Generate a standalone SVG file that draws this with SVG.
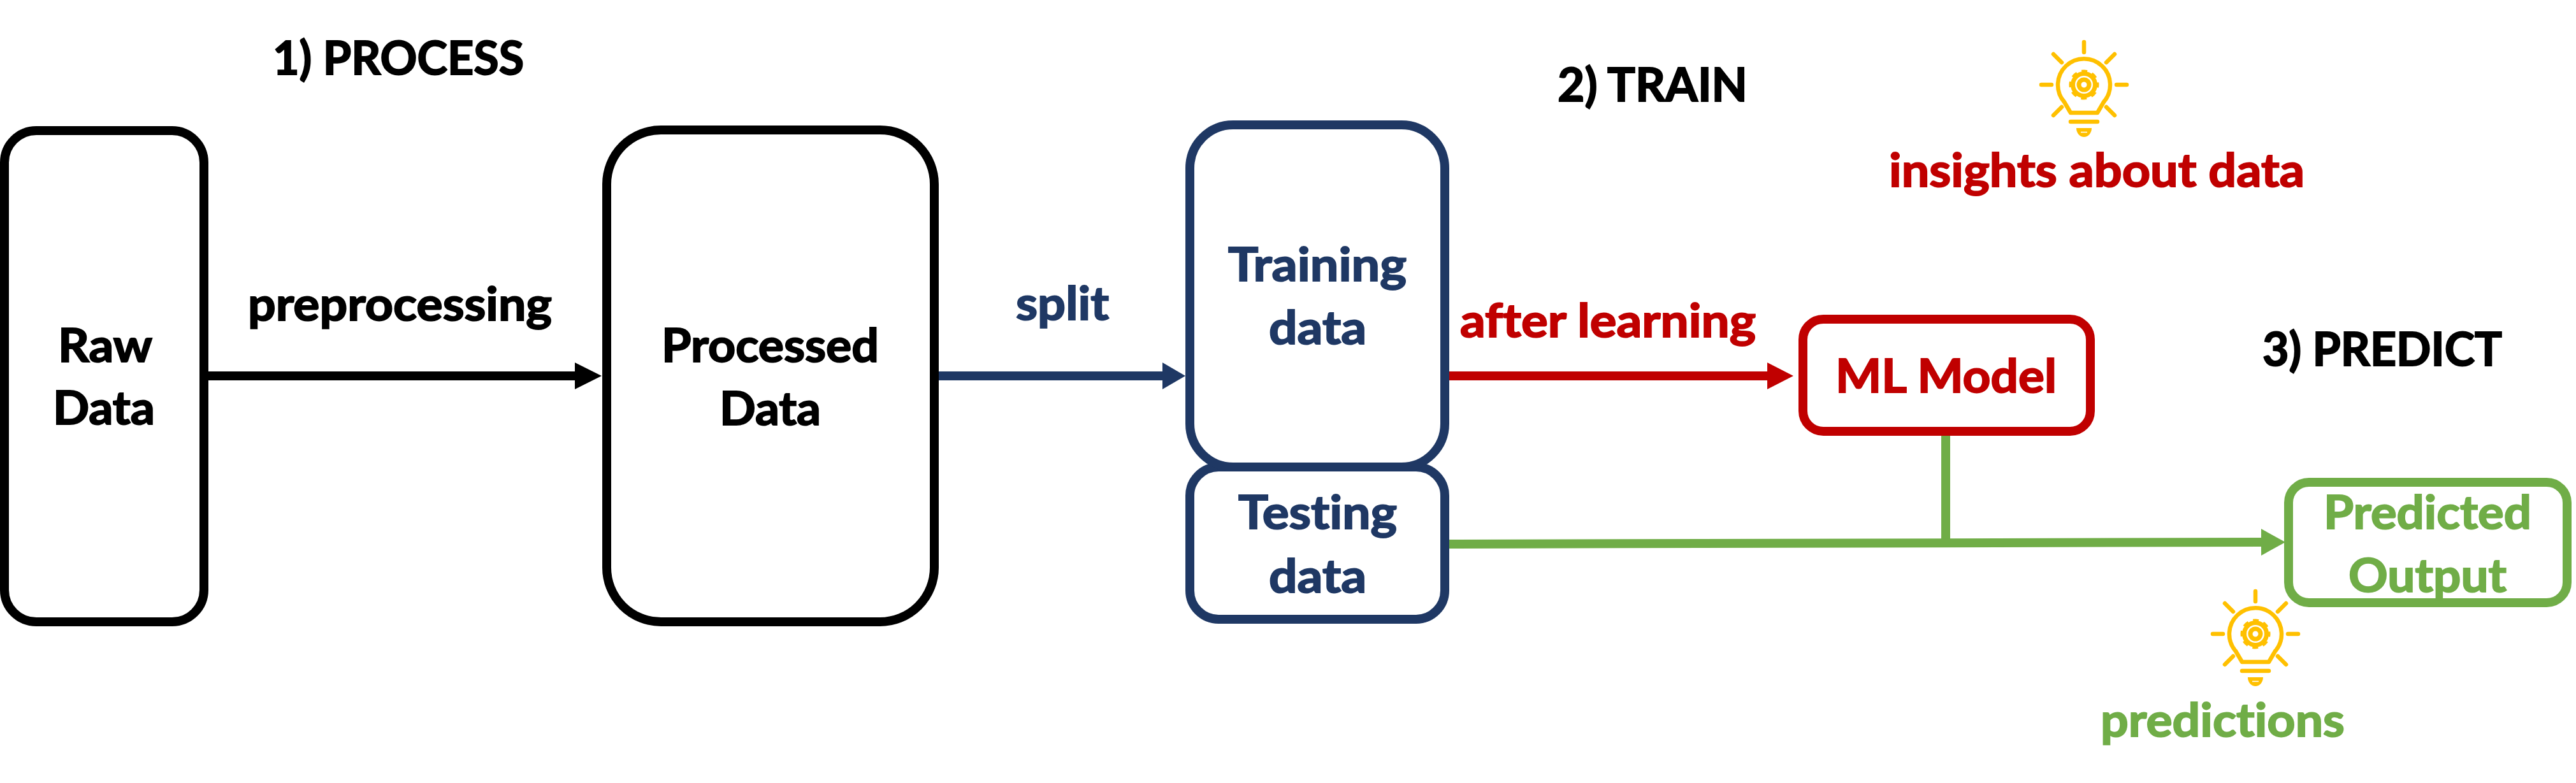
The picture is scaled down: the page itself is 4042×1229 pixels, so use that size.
<svg xmlns="http://www.w3.org/2000/svg" width="4042" height="1229" viewBox="0 0 4042 1229">
  <style>
    text { font-family: "Lato", "Open Sans", "Liberation Sans", sans-serif; font-weight: 700; font-size: 73px; font-variant-ligatures: none; stroke-width: 2; }
    .box { fill: #ffffff; stroke-width: 14; }
    .conn { fill: none; stroke-width: 14; }
    .k { stroke: #000000; } .b { stroke: #1F3864; } .r { stroke: #C00000; } .g { stroke: #70AD47; }
    .tk { fill: #000000; stroke: #000000; } .tb { fill: #1F3864; stroke: #1F3864; } .tr { fill: #C00000; stroke: #C00000; } .tg { fill: #70AD47; stroke: #70AD47; }
    .bulb-line { fill: none; stroke: #FFC000; stroke-width: 6.5; stroke-linecap: round; }
  </style>
  <defs>
    <marker id="hk" markerUnits="userSpaceOnUse" markerWidth="42" markerHeight="42" refX="0" refY="21" orient="auto"><path d="M0 0L42 21L0 42Z" fill="#000000"/></marker>
    <marker id="hb" markerUnits="userSpaceOnUse" markerWidth="36" markerHeight="42" refX="0" refY="21" orient="auto"><path d="M0 0L36 21L0 42Z" fill="#1F3864"/></marker>
    <marker id="hr" markerUnits="userSpaceOnUse" markerWidth="41" markerHeight="42" refX="0" refY="21" orient="auto"><path d="M0 0L41 21L0 42Z" fill="#C00000"/></marker>
    <marker id="hg" markerUnits="userSpaceOnUse" markerWidth="38" markerHeight="42" refX="0" refY="21" orient="auto"><path d="M0 0L38 21L0 42Z" fill="#70AD47"/></marker>
    <g id="bulb">
      <path class="bulb-line" d="M0 -67V-51M0 0M-67 0H-51M67 0H51M-48 -48L-35 -35M48 -48L35 -35M-48 48L-35 35M48 48L35 35M-21 58H21"/>
      <path class="bulb-line" stroke-linejoin="round" d="M-21 44H21L31 27A41 41 0 1 0 -31 27Z"/>
      <path d="M-12 68H12A12 14 0 0 1 -12 68Z" fill="#FFC000"/>
      <path d="M-5 74.500H5" stroke="#ffffff" stroke-width="1.500" fill="none"/>
      <circle r="17.500" fill="none" stroke="#FFC000" stroke-width="7"/>
      <circle r="21.500" fill="none" stroke="#FFC000" stroke-width="4" stroke-dasharray="9 7.890" stroke-dashoffset="4.500"/>
      <circle r="8" fill="none" stroke="#FFC000" stroke-width="7"/>
    </g>
  </defs>
  <rect width="4042" height="1229" fill="#ffffff"/>

  <g id="connectors">
    <line class="conn k" x1="327" y1="590" x2="902" y2="590" marker-end="url(#hk)"/>
    <line class="conn b" x1="1466" y1="590" x2="1824" y2="590" marker-end="url(#hb)"/>
    <line class="conn r" x1="2274" y1="590" x2="2773" y2="590" marker-end="url(#hr)"/>
    <line class="conn g" x1="3053" y1="680" x2="3053" y2="850" stroke-width="13"/>
    <line class="conn g" x1="2274" y1="854" x2="3548" y2="851" marker-end="url(#hg)"/>
  </g>

  <g id="title-process"><text class="tk" x="428" y="117" textLength="394" lengthAdjust="spacingAndGlyphs">1) PROCESS</text></g>
  <g id="title-train"><text class="tk" x="2444" y="159" textLength="298" lengthAdjust="spacingAndGlyphs">2) TRAIN</text></g>
  <g id="title-predict"><text class="tk" x="3550" y="574" textLength="376" lengthAdjust="spacingAndGlyphs">3) PREDICT</text></g>

  <g id="label-preprocessing"><text class="tk" x="389" y="503" textLength="477" lengthAdjust="spacingAndGlyphs">preprocessing</text></g>
  <g id="label-split"><text class="tb" x="1594" y="502" textLength="146" lengthAdjust="spacingAndGlyphs">split</text></g>
  <g id="label-after-learning"><text class="tr" x="2291" y="529" textLength="464" lengthAdjust="spacingAndGlyphs">after learning</text></g>

  <g id="node-raw-data">
    <rect class="box k" x="7" y="205" width="313" height="771" rx="50" ry="50"/>
    <text class="tk" x="91" y="568" textLength="148" lengthAdjust="spacingAndGlyphs">Raw</text>
    <text class="tk" x="83" y="666" textLength="160" lengthAdjust="spacingAndGlyphs">Data</text>
  </g>
  <g id="node-processed-data">
    <rect class="box k" x="952" y="204" width="514" height="772" rx="85" ry="85"/>
    <text class="tk" x="1038" y="568" textLength="341" lengthAdjust="spacingAndGlyphs">Processed</text>
    <text class="tk" x="1129" y="667" textLength="159" lengthAdjust="spacingAndGlyphs">Data</text>
  </g>
  <g id="node-testing-data">
    <rect class="box b" x="1867" y="733" width="400" height="239" rx="45" ry="45"/>
    <text class="tb" x="1943" y="830" textLength="249" lengthAdjust="spacingAndGlyphs">Testing</text>
    <text class="tb" x="1991" y="930" textLength="153" lengthAdjust="spacingAndGlyphs">data</text>
  </g>
  <g id="node-training-data">
    <rect class="box b" x="1867" y="196" width="400" height="537" rx="68" ry="68"/>
    <text class="tb" x="1927" y="441" textLength="280" lengthAdjust="spacingAndGlyphs">Training</text>
    <text class="tb" x="1991" y="540" textLength="153" lengthAdjust="spacingAndGlyphs">data</text>
  </g>
  <g id="node-ml-model">
    <rect class="box r" x="2829" y="501" width="451" height="176" rx="32" ry="32"/>
    <text class="tr" x="2880" y="616" textLength="347" lengthAdjust="spacingAndGlyphs">ML Model</text>
  </g>
  <g id="node-predicted-output">
    <rect class="box g" x="3591" y="757" width="437" height="189" rx="32" ry="32"/>
    <text class="tg" x="3646" y="830" textLength="326" lengthAdjust="spacingAndGlyphs">Predicted</text>
    <text class="tg" x="3685" y="929" textLength="248" lengthAdjust="spacingAndGlyphs">Output</text>
  </g>

  <g id="insights">
    <use href="#bulb" x="3270" y="133"/>
    <text class="tr" x="2964" y="293" textLength="652" lengthAdjust="spacingAndGlyphs">insights about data</text>
  </g>
  <g id="predictions">
    <use href="#bulb" x="3539" y="995"/>
    <text class="tg" x="3296" y="1156" textLength="383" lengthAdjust="spacingAndGlyphs">predictions</text>
  </g>
</svg>
